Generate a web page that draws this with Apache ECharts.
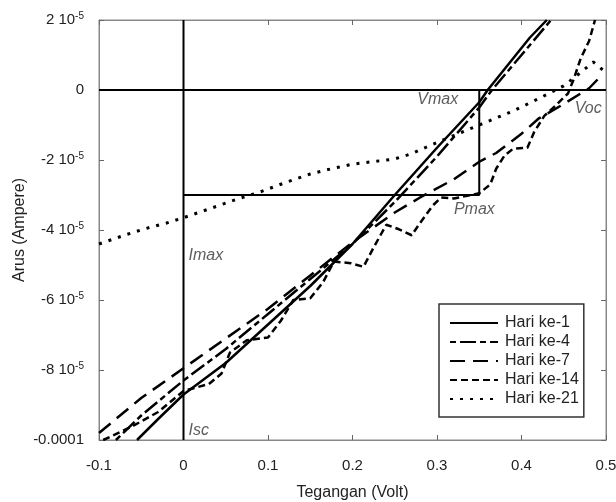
<!DOCTYPE html>
<html>
<head>
<meta charset="utf-8">
<script src="https://cdn.jsdelivr.net/npm/echarts@6/dist/echarts.min.js"></script>
<style>html,body{margin:0;padding:0;background:#fff}#c{width:616px;height:502px}</style>
</head>
<body>
<div id="c"></div>
<script>
// Current values are in units of 1e-5 A; voltage in V
const seriesNames = ['Hari ke-1', 'Hari ke-4', 'Hari ke-7', 'Hari ke-14', 'Hari ke-21'];

const hari1X = [-0.055, -0.03, 0, 0.05, 0.1, 0.15, 0.2, 0.25, 0.3, 0.35, 0.36, 0.39, 0.41, 0.43];
const hari1Y = [-10, -9.4, -8.7, -7.8, -6.7, -5.6, -4.4, -3.0, -1.65, -0.35, 0, 0.9, 1.5, 2.0];

const hari4X = [-0.08, -0.05, 0, 0.05, 0.1, 0.15, 0.2, 0.25, 0.3, 0.35, 0.365, 0.4, 0.435];
const hari4Y = [-10, -9.3, -8.3, -7.4, -6.4, -5.4, -4.4, -3.2, -1.9, -0.5, 0, 1.0, 2.0];

const hari7X = [-0.1, -0.05, 0, 0.05, 0.1, 0.15, 0.2, 0.25, 0.28, 0.32, 0.35, 0.37, 0.4, 0.42, 0.45, 0.48, 0.49];
const hari7Y = [-9.8, -8.8, -7.95, -7.1, -6.25, -5.3, -4.35, -3.5, -3.07, -2.55, -2.05, -1.8, -1.25, -0.82, -0.4, 0.05, 0.3];

const hari14X = [-0.095, -0.06, -0.03, 0, 0.03, 0.045, 0.055, 0.075, 0.1, 0.115, 0.13, 0.15, 0.165, 0.178, 0.198, 0.213, 0.225, 0.24, 0.255, 0.27, 0.28, 0.295, 0.305, 0.32, 0.35, 0.363, 0.37, 0.38, 0.39, 0.407, 0.415, 0.427, 0.44, 0.455, 0.462, 0.47, 0.48, 0.487];
const hari14Y = [-10, -9.6, -9.2, -8.6, -8.4, -8.1, -7.5, -7.15, -7.07, -6.6, -6.0, -5.95, -5.5, -4.9, -4.95, -5.05, -4.5, -3.85, -3.98, -4.15, -3.8, -3.3, -3.07, -3.1, -2.95, -2.7, -2.25, -1.87, -1.68, -1.65, -1.2, -0.74, -0.45, -0.1, 0.32, 0.9, 1.4, 2.0];

const hari21X = [-0.1, -0.07, -0.045, -0.02, 0, 0.03, 0.062, 0.09, 0.12, 0.15, 0.175, 0.2, 0.25, 0.27, 0.3, 0.33, 0.35, 0.39, 0.42, 0.45, 0.47, 0.485, 0.5];
const hari21Y = [-4.4, -4.15, -3.96, -3.8, -3.65, -3.4, -3.13, -2.92, -2.65, -2.4, -2.25, -2.12, -1.97, -1.82, -1.5, -1.2, -1.0, -0.6, -0.25, 0.12, 0.5, 0.8, 0.5];

// Maximum power point guide
const vMax = 0.35;
const iMax = -3;

// Axis ranges / ticks
const xTicks = [-0.1, 0, 0.1, 0.2, 0.3, 0.4, 0.5];
const yTicks = [-10, -8, -6, -4, -2, 0, 2];

// Annotation labels
const annoText = ['Vmax', 'Voc', 'Pmax', 'Imax', 'Isc'];
const annoX = [0.325, 0.463, 0.32, 0.006, 0.006];
const annoY = [-0.28, -0.53, -3.42, -4.73, -9.73];
const annoSide = ['left', 'right', 'right', 'right', 'right'];

const xs = [hari1X, hari4X, hari7X, hari14X, hari21X];
const ys = [hari1Y, hari4Y, hari7Y, hari14Y, hari21Y];
const dashes = ['solid', [6, 4, 16, 4], [15, 8], [7, 4], [3, 7]];
const widths = [2.5, 2.5, 2.5, 2.5, 3];

const font = 'Liberation Sans, Arial, sans-serif';
const pairs = (a, b) => a.map((v, i) => [v, b[i]]);

const curveSeries = seriesNames.map((n, i) => ({
  name: n, type: 'line', data: pairs(xs[i], ys[i]),
  symbol: 'none', showSymbol: false, smooth: false, silent: true,
  lineStyle: { color: '#000', width: widths[i], type: dashes[i] },
  itemStyle: { color: '#000' }, z: 3
}));

const guide = (data) => ({
  type: 'line', data: data, symbol: 'none', silent: true,
  lineStyle: { color: '#000', width: 2 }, z: 2
});

const chart = echarts.init(document.getElementById('c'), null, { renderer: 'canvas' });
const fmtX = v => {
  const r = Math.round(v * 10) / 10;
  return r === 0 ? '0' : String(r);
};
const fmtY = v => {
  const r = Math.round(v);
  if (r === 0) return '{b|0}';
  if (r === -10) return '{b|-0.0001}';
  return '{b|' + r + ' 10}{s|-5}';
};

chart.setOption({
  animation: false,
  backgroundColor: '#fff',
  textStyle: { fontFamily: font },
  grid: { left: 99, top: 20, right: 10, bottom: 62, show: true, borderColor: '#888', borderWidth: 1,
    containLabel: false, outerBoundsMode: 'none' },
  legend: {
    orient: 'vertical', left: 439, top: 304,
    data: seriesNames,
    itemWidth: 48, itemHeight: 14, itemGap: 3,
    padding: [11, 5, 10, 10],
    borderColor: '#333', borderWidth: 1.5,
    backgroundColor: '#fff',
    itemStyle: { opacity: 0 },
    textStyle: { fontFamily: font, fontSize: 16, color: '#222', padding: [0, 0, 0, 2] },
    selectedMode: false
  },
  xAxis: [{
    type: 'value', min: xTicks[0], max: xTicks[xTicks.length - 1], interval: 0.1,
    name: 'Tegangan (Volt)', nameLocation: 'middle', nameGap: 45, nameMoveOverlap: false,
    nameTextStyle: { fontFamily: font, fontSize: 16, color: '#222' },
    axisLine: { show: true, onZero: false, lineStyle: { color: '#888' } },
    axisTick: { show: true, inside: true, length: 5, lineStyle: { color: '#666' } },
    axisLabel: { formatter: fmtX, fontFamily: font, fontSize: 15, color: '#222', margin: 18 },
    splitLine: { show: false }
  }, {
    type: 'value', position: 'top', min: xTicks[0], max: xTicks[xTicks.length - 1], interval: 0.1,
    axisLine: { show: true, onZero: false, lineStyle: { color: '#888' } },
    axisTick: { show: true, inside: true, length: 5, lineStyle: { color: '#666' } },
    axisLabel: { show: false }, splitLine: { show: false }
  }],
  yAxis: [{
    type: 'value', min: yTicks[0], max: yTicks[yTicks.length - 1], interval: 2,
    name: 'Arus (Ampere)', nameLocation: 'middle', nameGap: 71, nameRotate: 90, nameMoveOverlap: false,
    nameTextStyle: { fontFamily: font, fontSize: 16, color: '#222' },
    axisLine: { show: true, onZero: false, lineStyle: { color: '#888' } },
    axisTick: { show: true, inside: true, length: 5, lineStyle: { color: '#666' } },
    axisLabel: {
      formatter: fmtY, margin: 15, color: '#222',
      rich: {
        b: { fontFamily: font, fontSize: 15, color: '#222', lineHeight: 18 },
        s: { fontFamily: font, fontSize: 10, color: '#222', verticalAlign: 'top', lineHeight: 10 }
      }
    },
    splitLine: { show: false }
  }, {
    type: 'value', position: 'right', min: yTicks[0], max: yTicks[yTicks.length - 1], interval: 2,
    axisLine: { show: true, onZero: false, lineStyle: { color: '#888' } },
    axisTick: { show: true, inside: true, length: 5, lineStyle: { color: '#666' } },
    axisLabel: { show: false }, splitLine: { show: false }
  }],
  series: [
    guide([[0, yTicks[0]], [0, yTicks[yTicks.length - 1]]]),
    guide([[xTicks[0], 0], [xTicks[xTicks.length - 1], 0]]),
    guide([[0, iMax], [vMax, iMax], [vMax, 0]]),
    ...curveSeries,
    {
      type: 'scatter', symbolSize: 0, silent: true, z: 5,
      data: annoText.map((t, i) => ({
        value: [annoX[i], annoY[i]],
        label: { show: true, formatter: t, position: annoSide[i], distance: 0,
          fontFamily: font, fontSize: 16, fontStyle: 'italic', color: '#333' }
      }))
    }
  ]
});
</script>
</body>
</html>
